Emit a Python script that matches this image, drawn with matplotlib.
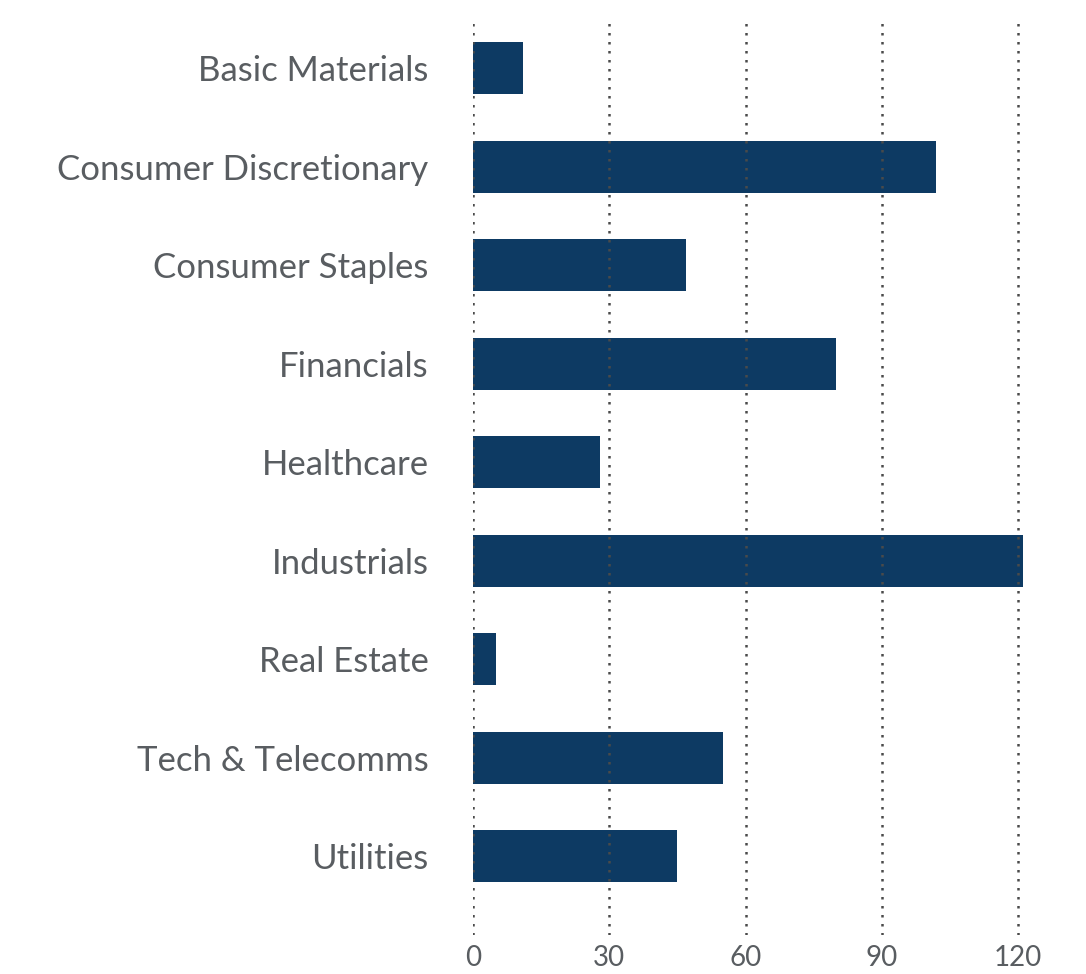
import matplotlib.pyplot as plt

sectors = ["Basic Materials", "Consumer Discretionary", "Consumer Staples",
           "Financials", "Healthcare", "Industrials", "Real Estate",
           "Tech & Telecomms", "Utilities"]
counts = [11, 102, 47, 80, 28, 121, 5, 55, 45]
xticks = [0, 30, 60, 90, 120]

bar_color = "#0d3a63"
text_color = "#595d61"

plt.rcParams['font.family'] = ['Lato', 'DejaVu Sans']

fig = plt.figure(figsize=(10.86, 9.74), dpi=100)
ax = fig.add_axes([0.4355, 0.04, 0.5145, 0.9395])

ypos = list(range(len(sectors)))
ax.barh(ypos, counts, height=0.53, color=bar_color, zorder=2)

# dotted gridlines drawn over the bars
for t in xticks:
    ax.axvline(t, color="#4a4a4a", lw=1.8, ls=(0, (1, 2.6)), zorder=3)

ax.set_ylim(8.8, -0.49)
ax.set_xlim(0, 123)
ax.set_yticks(ypos)
ax.set_yticklabels(sectors)
ax.set_xticks(xticks)
ax.tick_params(axis='y', length=0, pad=32, labelsize=25, labelcolor=text_color)
ax.tick_params(axis='x', length=0, pad=7, labelsize=20, labelcolor=text_color)
for s in ax.spines.values():
    s.set_visible(False)

plt.savefig("out.png", dpi=100)
plt.close()
